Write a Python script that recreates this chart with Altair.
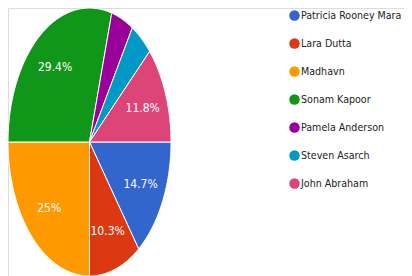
import altair as alt
import pandas as pd

names = ["Patricia Rooney Mara", "Lara Dutta", "Madhavn", "Sonam Kapoor",
         "Pamela Anderson", "Steven Asarch", "John Abraham"]
shares = [14.7, 10.3, 25.0, 29.4, 4.4, 4.4, 11.8]
colors = ["#3366cc", "#dc3912", "#ff9900", "#109618", "#990099", "#0099c6", "#dd4477"]

df = pd.DataFrame({"name": names, "share": shares, "idx": list(range(len(names)))})

W, H = 396, 268
CX, CY, RX, RY = 81.5, 134.0, 81.5, 134.0
xdom = [(0 - CX) / RX, (W - CX) / RX]
ydom = [(CY - H) / RY, CY / RY]
N = 40
FONT = "DejaVu Sans Condensed, Roboto, Liberation Sans, sans-serif"

xs = alt.Scale(domain=xdom, nice=False, zero=False)
ys = alt.Scale(domain=ydom, nice=False, zero=False)

base = alt.Chart(df).transform_window(
    cum="sum(share)", sort=[alt.SortField("idx")]
).transform_joinaggregate(total="sum(share)").transform_calculate(
    a0="(datum.cum - datum.share) / datum.total * 2 * PI",
    a1="datum.cum / datum.total * 2 * PI",
)

slices = base.transform_calculate(
    step=f"sequence(0, {N + 2})"
).transform_flatten(["step"]).transform_calculate(
    ang=f"datum.step <= {N} ? datum.a0 + (datum.a1 - datum.a0) * datum.step / {N} : 0",
    rr=f"datum.step <= {N} ? 1 : 0",
).transform_calculate(
    px="datum.rr * cos(datum.ang)",
    py="-datum.rr * sin(datum.ang)",
).mark_line(filled=True, interpolate="linear-closed", stroke="white", strokeWidth=1).encode(
    x=alt.X("px:Q", scale=xs, axis=None),
    y=alt.Y("py:Q", scale=ys, axis=None),
    order=alt.Order("step:Q"),
    detail="name:N",
    color=alt.Color(
        "name:N",
        scale=alt.Scale(domain=names, range=colors),
        sort=names,
        legend=alt.Legend(
            title=None, orient="none", legendX=281, legendY=2,
            symbolType="circle", symbolSize=110, symbolStrokeWidth=0,
            labelFont=FONT, labelFontSize=10.6, labelColor="#222222",
            rowPadding=16, labelLimit=300, labelOffset=1,
        ),
    ),
)

labels = base.transform_filter("datum.share >= 5").transform_calculate(
    am="(datum.a0 + datum.a1) / 2",
).transform_calculate(
    lx="0.7 * cos(datum.am)",
    ly="-0.7 * sin(datum.am)",
    lab="format(datum.share, '.3~') + '%'",
).mark_text(color="white", font=FONT, fontSize=12).encode(
    x=alt.X("lx:Q", scale=xs, axis=None),
    y=alt.Y("ly:Q", scale=ys, axis=None),
    text="lab:N",
)

chart = alt.layer(slices, labels).properties(
    width=W, height=H, padding=0,
    autosize=alt.AutoSizeParams(type="none"),
).configure_view(stroke=None).configure(background="white")

chart.save("out.html", embed_options={"renderer": "svg", "actions": False})
